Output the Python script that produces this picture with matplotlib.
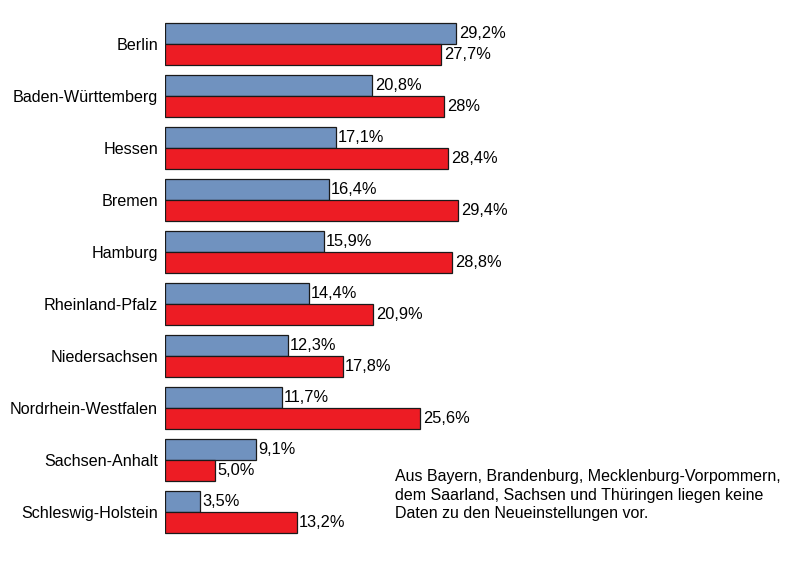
import numpy as np
import matplotlib.pyplot as plt

# data (percent)
laender = ['Berlin', 'Baden-Württemberg', 'Hessen', 'Bremen', 'Hamburg',
           'Rheinland-Pfalz', 'Niedersachsen', 'Nordrhein-Westfalen',
           'Sachsen-Anhalt', 'Schleswig-Holstein']
blau = [29.2, 20.8, 17.1, 16.4, 15.9, 14.4, 12.3, 11.7, 9.1, 3.5]
rot = [27.7, 28.0, 28.4, 29.4, 28.8, 20.9, 17.8, 25.6, 5.0, 13.2]
blau_txt = ['29,2%', '20,8%', '17,1%', '16,4%', '15,9%', '14,4%', '12,3%', '11,7%', '9,1%', '3,5%']
rot_txt = ['27,7%', '28%', '28,4%', '29,4%', '28,8%', '20,9%', '17,8%', '25,6%', '5,0%', '13,2%']

note = ('Aus Bayern, Brandenburg, Mecklenburg-Vorpommern,\n'
        'dem Saarland, Sachsen und Thüringen liegen keine\n'
        'Daten zu den Neueinstellungen vor.')

plt.rcParams['font.family'] = ['Liberation Sans', 'DejaVu Sans']

W, H = 807, 562
fig = plt.figure(figsize=(W / 100, H / 100), dpi=100)
# axes: x=0 at 165 px, 40% -> 564 px; rows from 18 px to 538 px
ax = fig.add_axes([165 / W, (H - 538) / H, 399 / W, 520 / H])

y = np.arange(len(laender))
h = 0.405
ax.barh(y - h / 2, blau, height=h, color='#7092bf', edgecolor='#1a1a1a', linewidth=0.9)
ax.barh(y + h / 2, rot, height=h, color='#ed1c24', edgecolor='#1a1a1a', linewidth=0.9)

for i in range(len(laender)):
    ax.text(blau[i] + 0.25, y[i] - h / 2, blau_txt[i], va='center', ha='left', fontsize=11.8)
    ax.text(rot[i] + 0.25, y[i] + h / 2, rot_txt[i], va='center', ha='left', fontsize=11.8)

ax.set_xlim(0, 40)
ax.set_ylim(len(laender) - 0.5, -0.5)
ax.set_yticks(y)
ax.set_yticklabels(laender, fontsize=11.6)
ax.tick_params(axis='y', length=0, pad=5)
ax.set_xticks([])
for s in ax.spines.values():
    s.set_visible(False)

fig.text(395 / W, 1 - 469 / H, note, fontsize=11.5, va='top', ha='left', linespacing=1.3)

fig.savefig('out.png', dpi=100)
plt.close(fig)
